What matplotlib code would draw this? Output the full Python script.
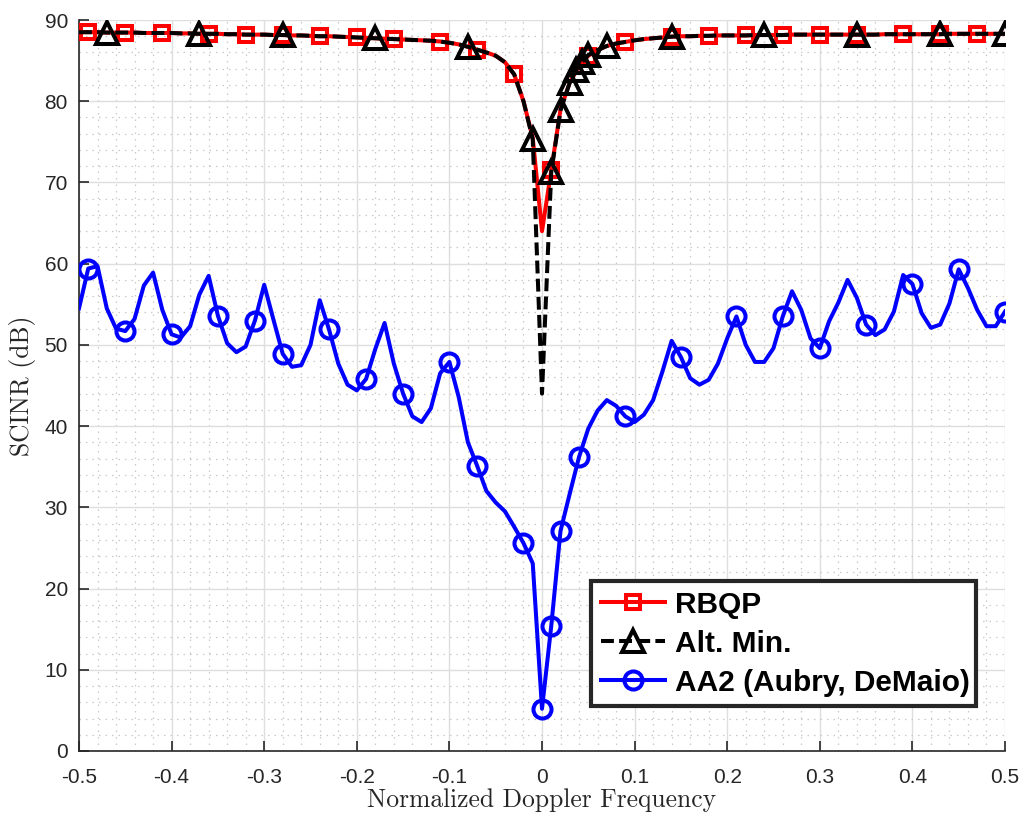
import numpy as np
import matplotlib
matplotlib.use("Agg")
import matplotlib.pyplot as plt
from matplotlib import font_manager

plt.rcParams['axes.unicode_minus'] = False

# ---------------- data ----------------
freq = np.round(np.arange(-50, 51) / 100.0, 2)

rbqp = [88.5, 88.5, 88.5, 88.45, 88.45, 88.45, 88.45, 88.4, 88.4, 88.4,
        88.4, 88.35, 88.35, 88.3, 88.3, 88.3, 88.25, 88.25, 88.2, 88.2,
        88.2, 88.15, 88.15, 88.1, 88.1, 88.05, 88.0, 88.0, 87.95, 87.9,
        87.85, 87.8, 87.75, 87.7, 87.65, 87.6, 87.55, 87.5, 87.45, 87.35,
        87.2, 87.0, 86.7, 86.35, 86.0, 85.6, 84.8, 83.3, 80.0, 75.5,
        64.0,
        71.5, 79.0, 82.3, 84.3, 85.6, 86.3, 86.8, 87.1, 87.3, 87.5,
        87.65, 87.75, 87.85, 87.95, 88.0, 88.0, 88.05, 88.05, 88.1, 88.1,
        88.1, 88.1, 88.15, 88.15, 88.15, 88.15, 88.2, 88.2, 88.2, 88.2,
        88.2, 88.2, 88.2, 88.2, 88.2, 88.2, 88.25, 88.25, 88.25, 88.25,
        88.25, 88.25, 88.25, 88.3, 88.3, 88.3, 88.3, 88.3, 88.3, 88.3]

altmin_x = [round(v, 3) for v in np.concatenate([freq[:54], [0.037, 0.043], freq[55:]])]
altmin = [88.5, 88.5, 88.5, 88.45, 88.45, 88.45, 88.45, 88.4, 88.4, 88.4,
          88.4, 88.35, 88.35, 88.3, 88.3, 88.3, 88.25, 88.25, 88.2, 88.2,
          88.2, 88.15, 88.15, 88.1, 88.1, 88.05, 88.0, 88.0, 87.95, 87.9,
          87.85, 87.8, 87.75, 87.7, 87.65, 87.6, 87.55, 87.5, 87.45, 87.35,
          87.2, 87.0, 86.7, 86.35, 86.0, 85.6, 84.8, 83.3, 80.0, 75.3,
          44.0,
          71.3, 78.9, 82.3, 83.9, 84.8, 85.7, 86.3, 86.8, 87.1, 87.3, 87.5,
          87.65, 87.75, 87.85, 87.95, 88.0, 88.0, 88.05, 88.05, 88.1, 88.1,
          88.1, 88.1, 88.15, 88.15, 88.15, 88.15, 88.2, 88.2, 88.2, 88.2,
          88.2, 88.2, 88.2, 88.2, 88.2, 88.2, 88.25, 88.25, 88.25, 88.25,
          88.25, 88.25, 88.25, 88.3, 88.3, 88.3, 88.3, 88.3, 88.3, 88.3]

aa2 = [54.5, 59.4, 59.7, 54.5, 52.0, 51.7, 53.2, 57.3, 58.9, 54.3,
       51.3, 50.9, 52.3, 56.2, 58.5, 53.6, 50.2, 49.1, 49.8, 53.0,
       57.4, 53.1, 48.9, 47.3, 47.5, 50.0, 55.5, 51.9, 47.7, 45.1,
       44.4, 45.8, 49.5, 52.7, 47.7, 44.0, 41.2, 40.5, 42.2, 46.5,
       47.9, 43.6, 38.0, 35.1, 32.0, 30.6, 29.5, 27.6, 25.6, 23.1,
       5.2,
       15.4, 27.1, 31.7, 36.2, 39.7, 41.9, 43.2, 42.5, 41.2, 40.5,
       41.4, 43.2, 46.7, 50.5, 48.5, 45.9, 45.1, 45.7, 47.7, 50.8,
       53.5, 50.0, 47.9, 47.9, 49.6, 53.5, 56.6, 54.3, 50.8, 49.6,
       52.9, 55.2, 58.0, 55.8, 52.5, 51.2, 51.9, 54.1, 58.6, 57.5,
       53.9, 52.1, 52.5, 55.1, 59.3, 57.0, 54.3, 52.3, 52.3, 54.1]

rbqp_marks = [1, 5, 9, 14, 18, 22, 26, 30, 34, 39, 43, 47, 51, 55, 59, 64,
              68, 72, 76, 80, 84, 89, 93, 97]
altmin_marks = [3, 13, 22, 32, 42, 49, 51, 52, 53, 54, 55, 56, 58, 65, 75,
                85, 94, 101]
aa2_marks = [1, 5, 10, 15, 19, 22, 27, 31, 35, 40, 43, 48, 50, 51, 52, 54,
             59, 65, 71, 76, 80, 85, 90, 95, 100]

labels = ['RBQP', 'Alt. Min.', 'AA2 (Aubry, DeMaio)']
xticks = [-0.5, -0.4, -0.3, -0.2, -0.1, 0, 0.1, 0.2, 0.3, 0.4, 0.5]
xticklabels = ['-0.5', '-0.4', '-0.3', '-0.2', '-0.1', '0', '0.1', '0.2', '0.3', '0.4', '0.5']
yticks = [0, 10, 20, 30, 40, 50, 60, 70, 80, 90]

# ---------------- fonts ----------------
avail = {f.name for f in font_manager.fontManager.ttflist}
tick_family = ['Liberation Sans Narrow'] if 'Liberation Sans Narrow' in avail else ['Liberation Sans']
tick_family = tick_family + ['DejaVu Sans']
serif_family = ['cmr10', 'DejaVu Serif']

# ---------------- figure ----------------
fig = plt.figure(figsize=(10.21, 8.15), dpi=100)
ax = fig.add_axes([79 / 1021, 64 / 815, 926 / 1021, 731 / 815])

LW = 2.9
ax.plot(freq, rbqp, color='#ff0000', lw=LW, marker='s', markevery=rbqp_marks,
        ms=10, mfc='none', mec='#ff0000', mew=LW, label=labels[0], zorder=3)
ax.plot(altmin_x, altmin, color='black', lw=LW, ls=(0, (3.2, 1.3)), marker='^',
        markevery=altmin_marks, ms=15.5, mfc='none', mec='black', mew=LW,
        label=labels[1], zorder=4)
ax.plot(freq, aa2, color='#0000ff', lw=LW, marker='o', markevery=aa2_marks,
        ms=13, mfc='none', mec='#0000ff', mew=LW, label=labels[2], zorder=5)

ax.set_xlim(-0.5, 0.5)
ax.set_ylim(0, 90)
ax.set_xticks(xticks)
ax.set_xticklabels(xticklabels)
ax.set_yticks(yticks)
ax.set_xticks(np.arange(-0.5, 0.5001, 0.02), minor=True)
ax.set_yticks(np.arange(0, 90.01, 2), minor=True)

ax.grid(True, which='major', color='#dedede', lw=1.0, ls='-')
ax.grid(True, which='minor', color='#c8c8c8', lw=0.9, ls=(0, (1.2, 4.0)))
ax.set_axisbelow(True)

for s in ['top', 'right']:
    ax.spines[s].set_visible(False)
for s in ['left', 'bottom']:
    ax.spines[s].set_color('#262626')
    ax.spines[s].set_linewidth(1.2)

ax.tick_params(which='major', direction='in', length=7, width=1.2, color='#262626',
               labelsize=15, labelcolor='#262626')
ax.tick_params(axis='x', which='major', pad=12)
ax.tick_params(axis='y', which='major', pad=8)
ax.tick_params(which='minor', length=0)
for lab in ax.get_xticklabels() + ax.get_yticklabels():
    lab.set_family(tick_family)

ax.set_xlabel('Normalized Doppler Frequency', family=serif_family, fontsize=18.4,
              color='#262626', labelpad=1)
ax.set_ylabel('SCINR (dB)', family=serif_family, fontsize=18.4, color='#262626',
              labelpad=6)

leg = ax.legend(loc='lower left', bbox_to_anchor=(0.553, 0.061, 0.416, 0.171),
                mode='expand', frameon=True, fancybox=False, borderaxespad=0,
                prop={'family': ['Liberation Sans', 'DejaVu Sans'], 'weight': 'bold', 'size': 21.5},
                handlelength=2.15, handletextpad=0.33, labelspacing=0.37, borderpad=0.32)
leg.get_frame().set_edgecolor('#262626')
leg.get_frame().set_linewidth(3.0)
leg.get_frame().set_facecolor('white')
leg.get_frame().set_alpha(1.0)
leg.set_zorder(10)

fig.savefig('out.png', dpi=100, facecolor='white')
